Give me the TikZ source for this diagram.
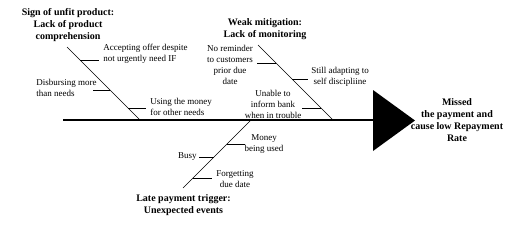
\documentclass[tikz,border=0pt]{standalone}
\usepackage{fontspec}
\setmainfont{Liberation Serif}

\begin{document}
\begin{tikzpicture}[x=1pt,y=-1pt,line width=0.6pt,
    causetitle/.style={inner sep=0pt,align=center,font=\bfseries\fontsize{10}{12}\selectfont},
    causetext/.style={inner sep=0pt,font=\fontsize{9}{11}\selectfont}]
  \useasboundingbox (0,0) rectangle (528,236);

  % spine and head
  \coordinate (tail) at (63,120);
  \coordinate (head) at (373,120);
  \draw[line width=1.2pt] (tail) -- (head);
  \fill (373,90) -- (415,120.5) -- (373,151) -- cycle;
  \node[causetitle] (effect) at (457,120.5)
    {Missed\\the payment and\\cause low Repayment\\Rate};

  % product branch
  \coordinate (p0) at (67,47);
  \coordinate (p1) at (140,120);
  \draw (p0) -- (p1);
  \node[causetitle] (product) at (68,25) {Sign of unfit product:\\Lack of product\\comprehension};
  \coordinate (pa) at (80,60);   \coordinate (pa') at (99,60);
  \coordinate (pb) at (110,90);  \coordinate (pb') at (93,90);
  \coordinate (pc) at (128,108); \coordinate (pc') at (146,108);
  \draw (pa) -- (pa');
  \draw (pb) -- (pb');
  \draw (pc) -- (pc');
  \node[causetext,align=left,anchor=west] (accept) at (103,54) {Accepting offer despite\\not urgently need IF};
  \node[causetext,align=left,anchor=west] (disburse) at (36,88) {Disbursing more\\than needs};
  \node[causetext,align=left,anchor=west] (usemoney) at (150,107) {Using the money\\for other needs};

  % mitigation branch
  \coordinate (m0) at (258,45);
  \coordinate (m1) at (333,120);
  \draw (m0) -- (m1);
  \node[causetitle] (mitigation) at (265,29) {Weak mitigation:\\Lack of monitoring};
  \coordinate (ma) at (276,63);  \coordinate (ma') at (257,63);
  \coordinate (mb) at (292,79);  \coordinate (mb') at (308,79);
  \coordinate (mc) at (321,108); \coordinate (mc') at (302,108);
  \draw (ma) -- (ma');
  \draw (mb) -- (mb');
  \draw (mc) -- (mc');
  \node[causetext,align=center] (reminder) at (230,65) {No reminder\\to customers\\prior due\\date};
  \node[causetext,align=center] (adapting) at (340,76.5) {Still adapting to\\self discipliine};
  \node[causetext,align=center] (inform) at (273,104) {Unable to\\inform bank\\when in trouble};

  % trigger branch
  \coordinate (t0) at (251,120);
  \coordinate (t1) at (183,188);
  \draw (t0) -- (t1);
  \node[causetitle] (trigger) at (183.5,205) {Late payment trigger:\\Unexpected events};
  \coordinate (ta) at (227,144); \coordinate (ta') at (245,144);
  \coordinate (tb) at (214,157); \coordinate (tb') at (199,157);
  \coordinate (tc) at (193,178); \coordinate (tc') at (212,178);
  \draw (ta) -- (ta');
  \draw (tb) -- (tb');
  \draw (tc) -- (tc');
  \node[causetext,align=center] (moneyused) at (264,144) {Money\\being used};
  \node[causetext,anchor=east] (busy) at (197,157) {Busy};
  \node[causetext,align=center] (forget) at (235,179) {Forgetting\\due date};
\end{tikzpicture}
\end{document}
